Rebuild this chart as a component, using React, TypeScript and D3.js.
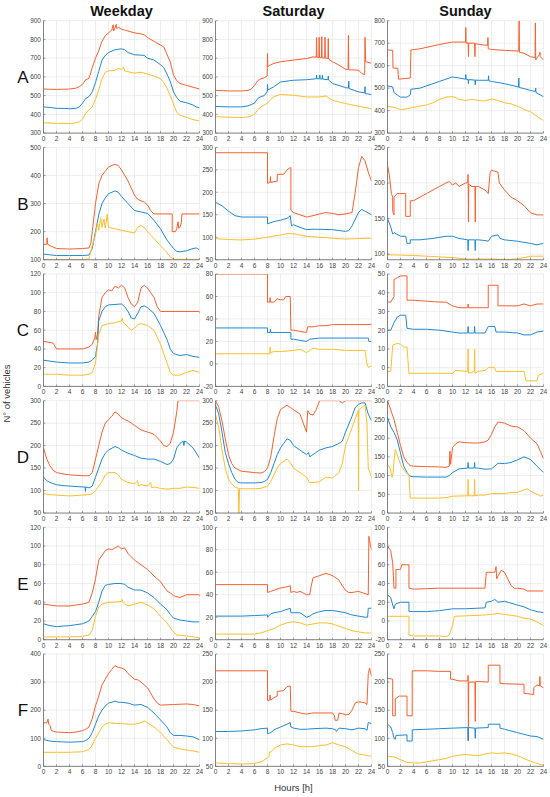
import React from "react";
import * as d3 from "d3";

// ---- labels ----
const columns = ["Weekday", "Saturday", "Sunday"];
const rows = ["A", "B", "C", "D", "E", "F"];
const hourTicks = [0, 2, 4, 6, 8, 10, 12, 14, 16, 18, 20, 22, 24];

// y domains [min, max, step] per row (Weekday, Saturday, Sunday)
const yA = [[300, 900, 100], [300, 900, 100], [300, 800, 100]];
const yB = [[100, 500, 100], [50, 300, 50], [92, 250, 50]];
const yC = [[0, 120, 20], [-20, 80, 20], [-10, 50, 10]];
const yD = [[50, 300, 50], [50, 300, 50], [0, 300, 50]];
const yE = [[0, 120, 20], [0, 100, 20], [-20, 100, 20]];
const yF = [[0, 400, 100], [50, 250, 50], [50, 250, 50]];

// ---- series: flat [hour, value, hour, value, ...] ----
// Row A
const aWkO = [0,535, 2,533, 4,535, 5,540, 5.5,548, 6,560, 6.5,585, 7,592, 7.5,650, 8,700, 8.5,740, 9,790, 9.5,820, 10,835, 10.5,850, 10.7,878, 10.8,845, 11,862, 11.2,880, 11.3,858, 11.5,865, 12,855, 13,845, 14,835, 15,830, 15.5,825, 16,810, 17,790, 18,770, 18.5,760, 19,720, 19.5,680, 20,610, 20.5,580, 21,565, 22,555, 23,545, 24,535];
const aWkB = [0,440, 1,437, 2,432, 3,432, 4,430, 5,432, 5.5,440, 6,460, 6.5,485, 7,495, 7.5,520, 8,570, 8.5,630, 9,690, 9.5,715, 10,730, 11,745, 12,750, 12.5,745, 13,730, 14,718, 15,716, 15.5,715, 16,700, 17,690, 18,665, 18.5,650, 19,615, 19.5,575, 20,520, 20.5,490, 21,470, 22,462, 23,450, 23.5,440, 24,435];
const aWkY = [0,355, 2,352, 3,352, 4,350, 5,355, 5.5,360, 6,375, 6.5,405, 7,425, 7.5,440, 8,480, 8.5,530, 9,590, 9.5,625, 10,632, 11,635, 11.5,645, 12,640, 12.3,652, 12.5,632, 13,628, 14,620, 15,625, 16,615, 17,605, 18,590, 18.5,570, 19,540, 19.5,500, 20,455, 20.5,410, 21,395, 22,385, 23,372, 24,365];
const aSaO = [0,528, 2,525, 4,525, 5,528, 5.5,535, 6,555, 6.5,580, 7,590, 7.5,595, 7.95,605, 8,725, 8.05,655, 8.5,665, 9,672, 10,681, 12,690, 14,698, 15,707, 15.5,705, 15.55,810, 15.6,705, 15.9,703, 15.95,812, 16,703, 16.3,702, 16.35,815, 16.4,702, 16.8,700, 16.85,812, 16.9,700, 17.3,698, 17.35,805, 17.4,695, 18,681, 19,663, 20,641, 20.4,640, 20.45,823, 20.5,638, 22,636, 22.5,618, 22.95,612, 23,811, 23.1,681, 24,673];
const aSaB = [0,442, 2,440, 4,440, 5,445, 6,460, 6.5,485, 7,495, 7.5,500, 7.95,520, 8,560, 8.05,530, 9,548, 10,573, 12,582, 14,585, 15.5,590, 15.55,610, 15.6,590, 16,590, 16.05,610, 16.1,590, 16.4,588, 16.45,610, 16.5,588, 17.3,585, 17.35,605, 17.4,583, 18,565, 20,543, 20.45,540, 20.5,578, 20.55,538, 22,520, 22.95,515, 23,548, 23.05,511, 24,506];
const aSaY = [0,388, 2,385, 4,383, 5,386, 6,400, 6.5,425, 7,440, 8,460, 8.5,480, 9,495, 10,506, 12,502, 14,493, 16,493, 17,498, 18,475, 20,458, 22,443, 24,430];
const aSuO = [0,670, 0.8,668, 0.85,590, 1.6,588, 1.7,540, 3.5,545, 3.6,670, 5,675, 7,688, 9,700, 10,705, 12,705, 12.05,770, 12.1,700, 12.4,702, 12.45,640, 12.5,700, 13.4,700, 13.45,640, 13.5,698, 14,695, 15.4,690, 15.45,725, 15.5,675, 16,672, 18,668, 20.2,665, 20.25,800, 20.3,660, 21,655, 22,640, 22.7,635, 22.75,790, 22.8,625, 23,635, 23.4,650, 23.45,660, 23.5,640, 24,625];
const aSuB = [0,510, 0.8,505, 1,480, 1.5,470, 2,460, 3,460, 3.5,470, 3.6,495, 5,500, 6,510, 8,530, 10,550, 11,545, 12,540, 12.05,560, 12.1,540, 12.4,538, 12.45,520, 12.5,538, 13.45,536, 13.5,515, 13.55,536, 14,535, 15.5,535, 15.55,555, 15.6,532, 16,530, 18,520, 20.15,505, 20.2,545, 20.25,503, 21,498, 22,490, 22.75,485, 22.8,500, 22.85,480, 23,478, 24,462];
const aSuY = [0,418, 1,415, 2,405, 3,408, 4,415, 5,420, 6,425, 7,435, 8,450, 9,460, 10,462, 10.5,458, 11,450, 12,445, 13,450, 14,445, 15,443, 16,452, 17,445, 18,435, 19,430, 20,420, 21,405, 22,395, 22.5,385, 23,375, 24,355];
// Row B
const bWkO = [0,155, 0.5,155, 0.55,178, 0.65,155, 1,150, 1.5,145, 2,140, 4,138, 6,140, 7,142, 7.3,160, 7.5,200, 8,300, 8.5,370, 9,400, 9.5,415, 10,430, 11,440, 11.5,435, 12,420, 13,380, 14,330, 14.5,315, 15,310, 15.5,305, 16,295, 16.5,275, 17,263, 19.8,263, 19.8,200, 20.3,200, 20.5,210, 20.7,235, 20.8,212, 21,215, 21.2,232, 21.3,263, 24,263];
const bWkB = [0,120, 2,115, 4,115, 6,115, 7,117, 7.5,140, 8,200, 8.5,260, 9,300, 9.5,320, 10,335, 11,345, 11.5,340, 12,325, 13,300, 14,275, 15,270, 16,265, 17,240, 18,210, 19,170, 20,140, 20.5,130, 21,128, 22,132, 23,140, 23.5,142, 24,135];
const bWkY = [0,101, 4,101, 6,101, 7,103, 7.5,150, 8,190, 8.3,230, 8.5,205, 8.8,250, 9,215, 9.3,245, 9.5,212, 9.8,262, 10,215, 11,210, 12,205, 13,200, 14,195, 14.5,215, 15,222, 15.5,215, 16,200, 17,175, 18,150, 19,125, 19.5,110, 20,102, 24,101];
const bSaO = [0,288, 8,288, 8,220, 8.4,222, 8.45,235, 8.5,222, 9.5,225, 9.5,240, 10.5,240, 11,250, 11.5,255, 11.6,255, 11.6,160, 12,155, 13,150, 14,145, 15,148, 16,152, 17,155, 18,153, 19,150, 20,152, 21,155, 21.5,200, 22,255, 22.5,280, 23,270, 23.5,245, 24,225];
const bSaB = [0,178, 1,170, 2,158, 3,148, 4,145, 8,145, 8,130, 9,135, 10,138, 11,142, 11.5,148, 11.7,125, 12,128, 13,122, 14,117, 15,118, 18,117, 19,115, 20,113, 20.5,115, 21,125, 22,155, 22.5,162, 23,158, 24,150];
const bSaY = [0,97, 2,95, 4,94, 6,96, 8,100, 9,103, 10,105, 11,108, 12,108, 13,105, 14,102, 16,100, 18,98, 20,96, 22,97, 24,98];
const bSuO = [0,225, 0.3,210, 0.6,185, 0.8,180, 0.8,160, 1,155, 1,180, 1.5,185, 2.8,185, 2.8,153, 3.5,153, 3.5,175, 4,175, 5,180, 6,185, 7,190, 8,195, 9,200, 9.5,202, 10,197, 10.5,200, 11,195, 12,200, 12.35,200, 12.4,212, 12.45,145, 12.5,198, 13,195, 13.45,195, 13.5,145, 13.55,195, 14,195, 15,190, 15.5,185, 15.8,215, 16,218, 17,215, 17.2,200, 18,190, 19,180, 20,175, 21,168, 22,158, 23,155, 24,155];
const bSuB = [0,150, 0.5,138, 0.8,128, 1,130, 2,125, 2.8,125, 3,115, 3.5,115, 3.5,120, 5,120, 7,122, 9,125, 10,125, 11,122, 12.35,120, 12.4,105, 12.45,120, 13.45,120, 13.5,105, 13.55,120, 14,120, 15,119, 15.5,118, 16,125, 17,127, 17.3,122, 18,120, 20,118, 22,115, 23,113, 24,115];
const bSuY = [0,99, 4,98, 8,96, 10,95, 12,93, 14,93, 16,93, 18,92.5, 20,93, 21,95, 22,97, 24,97];
// Row C
const cWkO = [0,48, 1,47, 1.5,46, 2,40, 6,40, 7,42, 7.5,45, 7.9,52, 8,58, 8.1,50, 8.3,55, 8.5,75, 9,95, 9.5,100, 10,103, 10.5,102, 11,107, 11.5,105, 12,108, 12.5,105, 13,95, 13.5,88, 14,85, 14.5,90, 15,105, 15.5,108, 16,105, 16.5,100, 17,95, 17.5,85, 18,80, 24,80, 24,78];
const cWkB = [0,28, 1,27, 2,26, 4,25, 6,25, 7,26, 7.5,28, 8,32, 8.3,45, 8.5,70, 9,80, 9.5,85, 10,87, 12,88, 12.5,85, 13,80, 13.5,73, 14,72, 14.5,78, 15,85, 15.5,86, 16,84, 17,78, 18,65, 19,50, 19.5,40, 20,35, 21,33, 22,34, 23,32, 24,31];
const cWkY = [0,13, 2,13, 4,12, 6,12, 7,13, 7.5,15, 8,25, 8.5,55, 9,65, 10,67, 11,68, 12,70, 12.1,73, 12.2,69, 12.5,67, 13,63, 13.5,60, 14,62, 14.5,66, 15,67, 16,65, 17,60, 18,45, 19,25, 19.5,15, 20,12, 21,12, 22,15, 23,17, 24,15];
const cSaO = [0,80, 8,80, 8,55, 8.35,55, 8.4,59, 8.45,55, 9,55, 9.5,58, 10,57, 10.5,57, 10.8,60, 11.5,60, 11.6,30, 12,30, 13,29, 14,28, 14.2,33, 15,33, 16,34, 17,34, 18,35, 24,35];
const cSaB = [0,32, 8,32, 8,28, 8.4,28, 8.45,31, 8.5,28, 11.6,28, 11.6,22, 12,22, 13,21, 14,20, 14.5,22, 16,23, 23.5,23, 23.6,20, 24,20];
const cSaY = [0,9, 4,9, 8.35,9, 8.4,15, 8.45,10, 9,11, 10,11, 12,12, 13,13, 14,10, 14.5,12, 15,14, 16,13, 18,13, 20,12, 23,12, 23.3,0, 23.5,-3, 24,-2];
const cSuO = [0,35, 0.5,35, 1,38, 1,47, 1.5,48, 2,49, 3,49, 3,36, 4,36, 6,35.5, 8,35, 9,35, 10,33, 11,32, 12.35,32, 12.4,34, 12.45,32, 14,32, 15.5,32, 15.5,44, 17,44, 17,33, 20,33, 21,34, 22,33, 23,34, 24,34];
const cSuB = [0,20, 0.5,20, 1,24, 1.5,27, 2,28, 2.8,28, 3,21, 4,20.5, 6,20.5, 8,20, 10,19, 11,18.5, 12.35,18.5, 12.4,22, 12.45,18.5, 13.35,18.5, 13.4,22, 13.45,18.5, 15,18.5, 15.5,22, 16.5,22, 16.7,19, 18,19, 20,18.5, 21,17.5, 22,17.5, 23,19, 24,19.5];
const cSuY = [0,-2, 0.5,-2, 0.8,12, 1.5,13, 2,12.5, 2.5,11, 3,11, 3.3,-3, 10,-3, 10.5,-1.5, 12.35,-2, 12.4,10, 12.45,-3, 13.35,-2, 13.4,10, 13.45,-3, 14,-2, 15,-1.5, 15.5,0, 16.5,0, 16.7,-2, 21,-2, 21.3,-7, 23,-7, 23.2,-4, 24,-3];
// Row D
const dWkO = [0,195, 0.5,170, 1,155, 1.5,145, 2,140, 3,137, 4,135, 5,134, 6,133, 7,133, 7.5,140, 8,170, 8.5,200, 9,230, 9.5,250, 10,258, 10.5,265, 11,275, 11.5,270, 12,262, 12.5,258, 13,255, 13.5,250, 14,245, 15,235, 16,230, 16.5,228, 17,225, 18,210, 18.5,200, 19,198, 19.5,205, 20,230, 20.5,275, 20.7,300, 24,300];
const dWkB = [0,130, 0.5,122, 1,118, 2,113, 3,111, 4,110, 5,109, 6,108, 6.4,108, 6.45,98, 6.5,108, 7,106, 7.5,110, 8,130, 8.5,150, 9,170, 9.5,183, 10,190, 11,198, 11.5,195, 12,190, 13,183, 14,178, 15,172, 16,170, 17,170, 18,165, 19,158, 19.5,160, 20,170, 20.5,195, 21,205, 21.5,210, 21.6,200, 21.7,210, 22,208, 23,195, 24,172];
const dWkY = [0,93, 1,91, 2,90, 4,88, 6,90, 7,91, 7.5,93, 8,100, 8.5,110, 9,120, 9.5,135, 10,140, 11,140, 11.5,135, 12,125, 13,118, 14,115, 14.5,122, 14.6,110, 15,113, 16,110, 16.5,118, 16.6,106, 17,108, 18,105, 19,103, 20,105, 21,105, 22,108, 23,107, 24,105];
const dSaO = [0,300, 0.5,285, 1,255, 1.5,215, 2,180, 2.5,160, 3,150, 4,143, 6,140, 7,139, 7.5,142, 8,150, 8.5,175, 9,220, 9.5,260, 10,280, 11,290, 11.5,285, 12,280, 13,270, 13.5,250, 14,230, 14.2,278, 14.5,270, 15,268, 15.5,280, 16,300, 19,300, 19.5,295, 20,300, 24,300];
const dSaB = [0,290, 0.5,270, 1,230, 1.5,185, 2,160, 2.5,140, 3,125, 3.5,118, 4,117, 6,117, 7,118, 7.5,120, 8,125, 8.5,140, 9,160, 9.5,180, 10,195, 10.5,205, 11,215, 11.5,212, 12,200, 13,190, 14,180, 14.3,185, 14.5,175, 15,180, 16,190, 17,195, 18,198, 19,205, 19.5,210, 20,230, 21,265, 21.5,285, 22,292, 22.5,295, 23,295, 23.5,270, 24,255];
const dSaY = [0,270, 0.5,240, 1,190, 1.5,150, 2,125, 2.5,115, 3,108, 3.5,105, 3.6,50, 3.7,105, 4,104, 6,104, 7,105, 8,110, 8.5,120, 9,135, 9.5,150, 10,160, 10.5,165, 11,170, 11.5,162, 12,150, 13,140, 14,130, 14.5,118, 15,118, 16,120, 17,130, 18,128, 19,140, 19.5,160, 20,200, 21,240, 21.5,260, 21.95,278, 22,100, 22.05,280, 22.5,285, 23,290, 23.3,250, 23.5,150, 24,130];
const dSuO = [0,300, 0.5,275, 1,250, 1.5,215, 2,180, 2.5,150, 3,135, 3.5,127, 4,125, 6,124, 8,123, 9,122, 9.5,125, 9.6,165, 9.7,130, 10,175, 10.5,185, 11,190, 12,188, 13,187, 14,187, 15,190, 15.5,195, 16,210, 16.5,230, 17,243, 18,240, 19,232, 20,230, 21,220, 22,200, 23,185, 23.5,165, 24,145];
const dSuB = [0,255, 0.5,230, 1,215, 1.5,195, 2,160, 2.5,125, 3,108, 3.5,98, 4,97, 6,96, 9,96, 9.5,100, 10,108, 11,118, 12.35,120, 12.4,135, 12.45,120, 13.35,120, 13.4,135, 13.45,120, 14,120, 15,117, 16,118, 16.5,125, 17,133, 18,132, 19,135, 20,142, 21,150, 22,143, 23,125, 24,108];
const dSuY = [0,130, 0.4,120, 0.7,95, 0.9,110, 1,140, 1.2,170, 1.5,155, 2,130, 2.5,115, 3,105, 3.3,103, 3.5,40, 8,40, 9,41, 10,45, 12.35,46, 12.4,90, 12.45,46, 13.35,46, 13.4,90, 13.45,46, 14,48, 15,48, 16,52, 18,52, 19,55, 20,55, 21,62, 21.5,65, 22,58, 23,50, 23.5,45, 24,48];
// Row E
const eWkO = [0,38, 1,37, 2,36, 4,36, 5,37, 6,38, 7,40, 7.5,50, 8,65, 8.5,85, 9,90, 9.5,95, 10,97, 10.5,96, 11,98, 11.5,100, 12,97, 12.5,98, 13,92, 14,85, 15,80, 16,75, 17,68, 18,62, 18.5,57, 19,52, 19.5,50, 20,47, 21,45, 22,48, 24,48, 24,46];
const eWkB = [0,17, 1,15, 2,14, 4,15, 5,16, 6,17, 7,20, 7.5,25, 8,30, 8.5,40, 9,52, 9.5,58, 10,59, 11,60, 12,60, 12.5,59, 13,56, 14,53, 15,53, 16,50, 17,45, 18,38, 19,32, 19.5,27, 20,23, 21,21, 22,20, 23,19, 24,19];
const eWkY = [0,3, 2,3, 4,3, 6,3.5, 7,5, 7.5,10, 8,25, 8.5,35, 9,38, 10,40, 11,40, 12,41, 12.1,43, 12.2,40, 12.5,38, 13,36, 14,38, 15,40, 16,37, 17,33, 18,25, 19,18, 20,8, 20.5,5, 22,4, 24,2];
const eSaO = [0,49, 8,49, 8,42, 8.5,43, 9,44, 10,46, 11,47, 11.5,48, 11.6,42, 12,43, 12.5,42, 13,43, 14,40, 14.5,40, 14.7,47, 15,55, 16,57, 17,59, 18,57, 19,53, 19.5,48, 20,44, 20.5,42, 21,42, 22,43, 23,41, 23.5,40, 23.6,92, 23.8,85, 24,80];
const eSaB = [0,21, 4,21, 6,21.5, 8,22, 8,20, 8.5,23, 9,24, 10,25, 11,27, 11.5,28, 11.6,24, 12,24, 13,24, 14,20, 14.5,21, 15,23, 16,25, 17,26, 18,26, 19,25, 20,24, 21,22, 22,21, 23,20, 23.4,20, 23.5,28, 24,28];
const eSaY = [0,5, 4,5, 6,5, 7,6, 8,8, 9,10, 10,13, 11,15, 12,16, 13,15, 14,13, 15,14, 16,15, 17,15, 18,14, 19,12, 20,10, 21,8, 22,7, 23,6, 24,6];
const eSuO = [0,80, 0.5,75, 0.8,62, 1,35, 1.3,35, 1.3,55, 2,55, 2.2,60, 3.3,60, 3.3,35, 4,34, 6,34.5, 8,35, 15,35, 15.2,52, 16.5,52, 16.7,58, 16.8,45, 17,48, 17.5,54, 18,52, 18.5,45, 19,38, 19.5,35, 20,35, 21,34, 21.5,32, 24,32];
const eSuB = [0,28, 0.5,25, 0.8,17, 1,13, 1.2,18, 2,20, 3.3,20, 3.3,10, 4,10, 6,10, 8,11, 10,13, 12,13, 15,14, 15.2,20, 16,21, 16.5,23, 17,20, 18,21, 19,19, 20,17, 21,15, 22,12, 23,10, 24,9];
const eSuY = [0,5, 3.3,5, 3.3,-15, 4,-16, 8,-16, 9,-17, 9.5,-15, 10,-5, 10.3,5, 12,5.5, 14,6, 16,7, 17,8, 18,7, 20,5, 21,3, 22,2, 23,-1, 24,-5];
// Row F
const fWkO = [0,155, 0.5,155, 0.7,168, 0.8,150, 1,145, 1.2,128, 1.5,125, 2,122, 4,120, 5,122, 6,127, 6.5,132, 7,140, 7.5,170, 8,215, 8.5,250, 9,290, 9.5,310, 10,330, 10.5,345, 11,358, 11.5,352, 12,350, 12.5,345, 13,330, 13.5,320, 14,310, 14.5,308, 15,300, 15.5,290, 16,280, 16.5,260, 17,240, 17.5,225, 18,218, 20,220, 22,222, 23,220, 24,215];
const fWkB = [0,95, 1,90, 2,88, 4,86, 6,88, 6.5,92, 7,100, 7.5,120, 8,150, 8.5,180, 9,200, 9.5,215, 10,225, 11,232, 11.5,228, 12,228, 13,225, 14,218, 15,220, 16,210, 17,190, 18,165, 19,140, 19.5,120, 20,110, 21,110, 22,108, 23,105, 24,95];
const fWkY = [0,50, 2,50, 4,50, 6,52, 7,60, 7.5,75, 8,100, 8.5,120, 9,140, 9.5,150, 10,155, 11,153, 12,152, 13,150, 14,150, 15,155, 15.5,162, 16,155, 17,140, 18,120, 19,95, 20,68, 21,62, 22,58, 23,55, 24,50];
const fSaO = [0,220, 8,220, 8,167, 8.35,168, 8.4,177, 8.45,168, 9,172, 9.5,175, 9.5,183, 10.5,185, 11,192, 11.5,193, 11.6,148, 12,148, 13,145, 14,143, 15,145, 18,145, 18.3,140, 18.4,132, 18.8,132, 19,145, 20,142, 20.5,142, 21,150, 21.5,163, 22,165, 23,163, 23.3,160, 23.5,215, 23.7,225, 24,210];
const fSaB = [0,112, 2,112, 4,113, 6,115, 7,117, 8,118, 8,108, 8.5,110, 9,115, 10,120, 11,125, 11.5,128, 11.6,120, 12,118, 13,116, 14,116, 15,117, 17,118, 18,117, 18.5,115, 18.6,112, 19,118, 20,117, 21,115, 22,118, 23,117, 23.3,114, 23.5,128, 24,126];
const fSaY = [0,56, 2,55, 4,54, 6,55, 7,58, 8,65, 8.25,68, 8.3,76, 8.5,75, 9,82, 10,88, 11,90, 12,88, 13,85, 15,85, 16,87, 17,88, 18,92, 19,88, 20,85, 21,78, 22,72, 23,70, 24,68];
const fSuO = [0,207, 0.8,205, 0.8,140, 1.2,140, 1.2,170, 1.8,175, 3,175, 3,140, 3.8,140, 3.8,220, 6,220, 8,219, 9.7,219, 9.7,205, 10,205, 11,202, 12.35,202, 12.4,212, 12.45,95, 12.5,200, 13.45,200, 13.5,130, 13.55,201, 14,201, 15.5,200, 15.5,230, 17.3,230, 17.3,198, 18,197, 21,196, 21,180, 22.5,178, 22.5,190, 23,195, 23.4,193, 23.45,210, 23.5,193, 24,190];
const fSuB = [0,125, 0.5,120, 0.8,110, 1,100, 1.2,98, 1.3,105, 3,106, 3,95, 3.8,95, 3.8,115, 6,116, 8,117, 10,118, 12.35,119, 12.4,96, 12.45,119, 13.45,118, 13.5,100, 13.55,118, 15.5,119, 15.5,125, 17.3,125, 17.3,118, 18,116, 19,113, 20,110, 21,107, 22,104, 23,103, 24,98];
const fSuY = [0,68, 1,67, 2,62, 3,57, 4,56, 5,56, 6,58, 8,62, 9,64, 10,68, 11,70, 12,71, 13,70, 14,69, 15,72, 16,74, 17,73, 18,74, 19,72, 20,69, 21,64, 22,59, 23,55, 24,52];

const yDomains = [yA, yB, yC, yD, yE, yF];
const seriesGrid = [
  [[aWkO, aWkB, aWkY], [aSaO, aSaB, aSaY], [aSuO, aSuB, aSuY]],
  [[bWkO, bWkB, bWkY], [bSaO, bSaB, bSaY], [bSuO, bSuB, bSuY]],
  [[cWkO, cWkB, cWkY], [cSaO, cSaB, cSaY], [cSuO, cSuB, cSuY]],
  [[dWkO, dWkB, dWkY], [dSaO, dSaB, dSaY], [dSuO, dSuB, dSuY]],
  [[eWkO, eWkB, eWkY], [eSaO, eSaB, eSaY], [eSuO, eSuB, eSuY]],
  [[fWkO, fWkB, fWkY], [fSaO, fSaB, fSaY], [fSuO, fSuB, fSuY]],
];

// ---- styling / layout ----
const COLORS = ["#F8602F", "#2089D2", "#FDBE2A"];
const W = 550, H = 797;
const colX = [[43.5, 199.5], [215.5, 371.5], [387.5, 543.5]];
const rowTop0 = 20.7, rowPitch = 126.65, rowH = 112.4;
const FONT = "'Liberation Sans', Arial, Helvetica, sans-serif";

function pairs(flat: number[]): [number, number][] {
  const out: [number, number][] = [];
  for (let i = 0; i < flat.length; i += 2) out.push([flat[i], flat[i + 1]]);
  return out;
}

function Panel({ r, c }: { r: number; c: number }) {
  const [x0, x1] = colX[c];
  const top = rowTop0 + r * rowPitch;
  const bottom = top + rowH;
  const [ymin, ymax, step] = yDomains[r][c];
  const x = d3.scaleLinear().domain([0, 24]).range([x0, x1]);
  const y = d3.scaleLinear().domain([ymin, ymax]).range([bottom, top]);
  const first = Math.ceil(ymin / step) * step;
  const yTicks = d3.range(first, ymax + step / 2, step);
  const line = d3
    .line<[number, number]>()
    .x((d) => x(d[0]))
    .y((d) => y(d[1]));
  const clipId = `clip-${r}-${c}`;
  return (
    <g>
      <defs>
        <clipPath id={clipId}>
          <rect x={x0} y={top} width={x1 - x0} height={bottom - top} />
        </clipPath>
      </defs>
      {hourTicks.map((t) => (
        <line key={"gx" + t} x1={x(t)} x2={x(t)} y1={top} y2={bottom} stroke="#e3e3e3" strokeWidth={0.6} />
      ))}
      {yTicks.map((v) => (
        <line key={"gy" + v} x1={x0} x2={x1} y1={y(v)} y2={y(v)} stroke="#e3e3e3" strokeWidth={0.6} />
      ))}
      <g clipPath={`url(#${clipId})`}>
        {seriesGrid[r][c].map((s, i) => (
          <path key={i} d={line(pairs(s)) || ""} fill="none" stroke={COLORS[i]} strokeWidth={1} strokeLinejoin="round" />
        ))}
      </g>
      <line x1={x0} x2={x0} y1={top} y2={bottom} stroke="#666" strokeWidth={0.8} />
      <line x1={x0} x2={x1} y1={bottom} y2={bottom} stroke="#666" strokeWidth={0.8} />
      {hourTicks.map((t) => (
        <g key={"tx" + t}>
          <line x1={x(t)} x2={x(t)} y1={bottom} y2={bottom - 2} stroke="#666" strokeWidth={0.6} />
          <text x={x(t)} y={bottom + 8} fontSize={6.5} fill="#444" textAnchor="middle" fontFamily={FONT}>
            {t}
          </text>
        </g>
      ))}
      {yTicks.map((v) => (
        <g key={"ty" + v}>
          <line x1={x0} x2={x0 + 2} y1={y(v)} y2={y(v)} stroke="#666" strokeWidth={0.6} />
          <text x={x0 - 2.5} y={y(v) + 2.3} fontSize={6.5} fill="#444" textAnchor="end" fontFamily={FONT}>
            {v}
          </text>
        </g>
      ))}
    </g>
  );
}

export default function App() {
  return (
    <svg width={W} height={H} style={{ position: "absolute", left: 0, top: 0, background: "#fff" }} fontFamily={FONT}>
      <rect width={W} height={H} fill="#fff" />
      {columns.map((name, c) => (
        <text key={name} x={(colX[c][0] + colX[c][1]) / 2} y={16} fontSize={14.5} fontWeight="bold" textAnchor="middle" fill="#111">
          {name}
        </text>
      ))}
      {rows.map((lab, r) => (
        <text key={lab} x={23} y={rowTop0 + r * rowPitch + rowH / 2 + 6} fontSize={17} textAnchor="middle" fill="#111">
          {lab}
        </text>
      ))}
      {rows.map((_, r) => columns.map((__, c) => <Panel key={`${r}-${c}`} r={r} c={c} />))}
      <text transform={`translate(9.5, ${(rowTop0 + rowTop0 + 5 * rowPitch + rowH) / 2}) rotate(-90)`} fontSize={9.5} textAnchor="middle" fill="#333">
        N° of vehicles
      </text>
      <text x={(colX[0][0] + colX[2][1]) / 2} y={791} fontSize={9.5} textAnchor="middle" fill="#333">
        Hours [h]
      </text>
    </svg>
  );
}
